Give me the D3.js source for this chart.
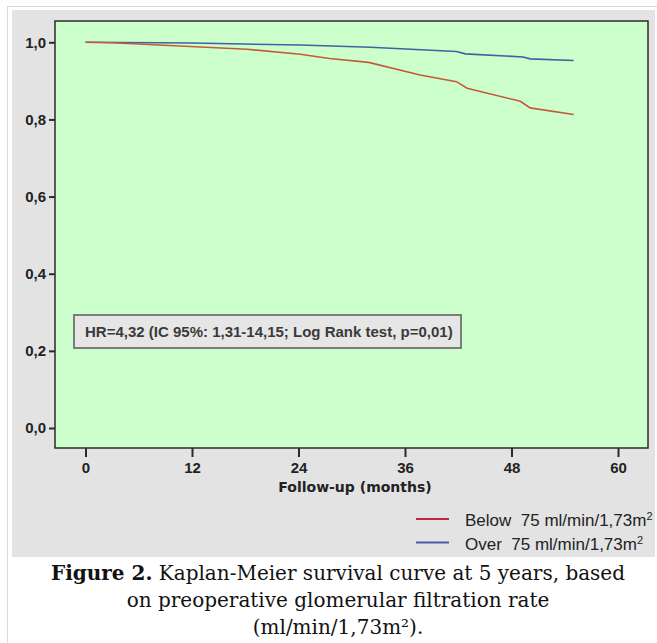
<!DOCTYPE html>
<html>
<head>
<meta charset="utf-8">
<script src="https://cdn.jsdelivr.net/npm/d3@7"></script>
<style>
  body { margin: 0; background: #fff; }
  svg { display: block; }
</style>
</head>
<body>
<div id="chart"></div>
<script>
// values
const monthsBelow = [0, 3, 18.2, 24.2, 27.5, 31.9, 37.7, 41.8, 43.0, 49.0, 50.1, 55.0];
const survivalBelow = [1.0, 0.999, 0.982, 0.969, 0.958, 0.948, 0.915, 0.898, 0.881, 0.847, 0.830, 0.813];
const monthsOver = [0, 12, 24.2, 32.1, 41.8, 42.8, 49.3, 50.1, 55.0];
const survivalOver = [1.0, 0.998, 0.993, 0.987, 0.976, 0.970, 0.962, 0.957, 0.953];
const xTicks = [0, 12, 24, 36, 48, 60];
const yTicks = [0, 0.2, 0.4, 0.6, 0.8, 1.0];
const seriesNames = ['Below 75 ml/min/1,73m', 'Over 75 ml/min/1,73m'];
const hrText = 'HR=4,32 (IC 95%: 1,31-14,15; Log Rank test, p=0,01)';
const xTitle = 'Follow-up (months)';
const captionLines = [
  ['Figure 2.', ' Kaplan-Meier survival curve at 5 years, based'],
  ['', 'on preoperative glomerular filtration rate'],
  ['', '(ml/min/1,73m²).'],
];

const PANEL_COLOR = '#e3e3e3';
const PLOT_COLOR = '#ccffcc';
const AXIS_COLOR = '#2b2b2b';
const RED = '#c45a3c';
const BLUE = '#3f62a0';
const LEGEND_RED = '#c0283a';
const LEGEND_BLUE = '#4a5fa8';

const W = 657, H = 643;
const plot = { left: 55, top: 21, right: 648, bottom: 448 };

const svg = d3.select('#chart')
  .append('svg')
  .attr('width', W)
  .attr('height', H);

// page frame + grey SPSS panel
svg.append('rect')
  .attr('x', 7.5).attr('y', 6.5)
  .attr('width', W).attr('height', H)
  .attr('fill', 'none')
  .attr('stroke', '#d9d9d9');

svg.append('rect')
  .attr('x', 12).attr('y', 10)
  .attr('width', 643).attr('height', 547)
  .attr('fill', PANEL_COLOR);

svg.append('rect')
  .attr('x', plot.left).attr('y', plot.top)
  .attr('width', plot.right - plot.left)
  .attr('height', plot.bottom - plot.top)
  .attr('fill', PLOT_COLOR)
  .attr('stroke', AXIS_COLOR)
  .attr('stroke-width', 1.5);

// scales
const x = d3.scaleLinear().domain([0, 60]).range([85.5, 618]);
const y = d3.scaleLinear().domain([0, 1]).range([428, 42.3]);

// Y axis
const yAxis = svg.append('g')
  .attr('transform', `translate(${plot.left},0)`)
  .call(d3.axisLeft(y)
    .tickValues(yTicks)
    .tickSize(6)
    .tickPadding(3)
    .tickFormat((d) => d.toFixed(1).replace('.', ',')));

yAxis.select('.domain').remove();
yAxis.selectAll('line').style('stroke', AXIS_COLOR).style('stroke-width', 2);
yAxis.selectAll('text')
  .style('font-family', 'Liberation Sans, Arial, sans-serif')
  .style('font-weight', 'bold')
  .style('font-size', '15px')
  .style('fill', '#222');

// X axis
const xAxis = svg.append('g')
  .attr('transform', `translate(0,${plot.bottom})`)
  .call(d3.axisBottom(x)
    .tickValues(xTicks)
    .tickSize(9)
    .tickPadding(5)
    .tickFormat(d3.format('d')));

xAxis.select('.domain').remove();
xAxis.selectAll('line').style('stroke', AXIS_COLOR).style('stroke-width', 2);
xAxis.selectAll('text')
  .style('font-family', 'Liberation Sans, Arial, sans-serif')
  .style('font-weight', 'bold')
  .style('font-size', '15px')
  .style('fill', '#222');

svg.append('text')
  .attr('x', 355)
  .attr('y', 492)
  .attr('text-anchor', 'middle')
  .style('font-family', 'DejaVu Sans, sans-serif')
  .style('font-weight', 'bold')
  .style('font-size', '14px')
  .style('fill', '#222')
  .text(xTitle);

// survival curves
const line = d3.line()
  .x((d) => x(d[0]))
  .y((d) => y(d[1]));

const curves = [
  { pts: d3.zip(monthsOver, survivalOver), color: BLUE },
  { pts: d3.zip(monthsBelow, survivalBelow), color: RED },
];

svg.selectAll('path.curve')
  .data(curves)
  .join('path')
  .attr('class', 'curve')
  .attr('d', (d) => line(d.pts))
  .attr('fill', 'none')
  .attr('stroke', (d) => d.color)
  .attr('stroke-width', 1.6);

// HR annotation box
svg.append('rect')
  .attr('x', 74).attr('y', 315)
  .attr('width', 387).attr('height', 33)
  .attr('fill', '#e6e6e6')
  .attr('stroke', '#7c7c7c')
  .attr('stroke-width', 2);

svg.append('text')
  .attr('x', 85)
  .attr('y', 337)
  .style('font-family', 'Liberation Sans, Arial, sans-serif')
  .style('font-weight', 'bold')
  .style('font-size', '15px')
  .style('fill', '#3a3a3a')
  .text(hrText);

// legend
const legendColors = [LEGEND_RED, LEGEND_BLUE];
const legend = svg.selectAll('g.legend')
  .data(seriesNames)
  .join('g')
  .attr('class', 'legend')
  .attr('transform', (d, i) => `translate(0,${519 + i * 23.5})`);

legend.append('line')
  .attr('x1', 416).attr('x2', 449)
  .attr('stroke', (d, i) => legendColors[i])
  .attr('stroke-width', 2);

const legendText = legend.append('text')
  .attr('x', 465)
  .attr('y', 7)
  .style('font-family', 'Liberation Sans, Arial, sans-serif')
  .style('font-size', '17px')
  .style('fill', '#222')
  .style('white-space', 'pre');

legendText.append('tspan').text((d) => d.replace(' ', '  '));
legendText.append('tspan')
  .attr('dy', -6)
  .style('font-size', '11px')
  .text('2');

// caption
const caption = svg.selectAll('text.caption')
  .data(captionLines)
  .join('text')
  .attr('class', 'caption')
  .attr('x', 338)
  .attr('y', (d, i) => 580 + i * 27)
  .attr('text-anchor', 'middle')
  .style('font-family', 'DejaVu Serif, serif')
  .style('font-size', '20px')
  .style('fill', '#111');

caption.append('tspan')
  .style('font-weight', 'bold')
  .text((d) => d[0]);
caption.append('tspan')
  .text((d) => d[1]);
</script>
</body>
</html>
